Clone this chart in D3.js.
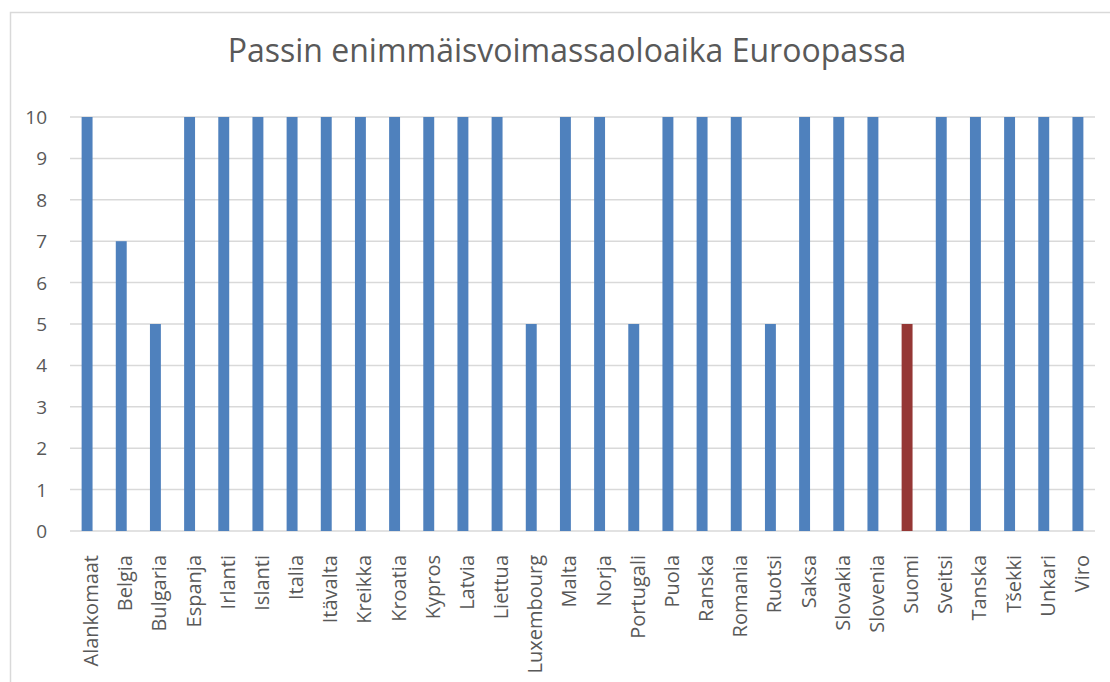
<!DOCTYPE html>
<html>
  <head>
    <meta charset="utf-8">
    <title>Passin enimmäisvoimassaoloaika Euroopassa</title>
    <script src="https://d3js.org/d3.v7.min.js"></script>
    <style type="text/css">
      body { margin: 0; background: #fff; }
      text { font-family: "Open Sans", "Noto Sans", sans-serif; fill: #595959; }
    </style>
  </head>
  <body>
    <script type="text/javascript">

      // Data
      var countries = ["Alankomaat", "Belgia", "Bulgaria", "Espanja", "Irlanti", "Islanti", "Italia",
        "Itävalta", "Kreikka", "Kroatia", "Kypros", "Latvia", "Liettua", "Luxembourg", "Malta",
        "Norja", "Portugali", "Puola", "Ranska", "Romania", "Ruotsi", "Saksa", "Slovakia",
        "Slovenia", "Suomi", "Sveitsi", "Tanska", "Tšekki", "Unkari", "Viro"];
      var years = [10, 7, 5, 10, 10, 10, 10, 10, 10, 10, 10, 10, 10, 5, 10,
        10, 5, 10, 10, 10, 5, 10, 10, 10, 5, 10, 10, 10, 10, 10];
      var highlight = "Suomi";
      var yTicks = [0, 1, 2, 3, 4, 5, 6, 7, 8, 9, 10];

      var width = 1110;
      var height = 682;
      var svg = d3.select("body")
          .append("svg")
          .attr("width", width)
          .attr("height", height);

      // chart frame
      svg.append("path")
          .attr("d", "M10.5," + height + " V12.5 H" + width)
          .style("fill", "none")
          .style("stroke", "#d9d9d9")
          .style("stroke-width", 1.5);

      // Title
      svg.append("text")
          .attr("x", 567)
          .attr("y", 62)
          .attr("text-anchor", "middle")
          .style("font-size", "32px")
          .text("Passin enimmäisvoimassaoloaika Euroopassa");

      var x = d3.scaleBand()
          .domain(countries)
          .range([70, 1095])
          .paddingInner(0.68)
          .paddingOuter(0.34);

      var y = d3.scaleLinear()
          .domain([0, 10])
          .range([531, 117]);

      // gridlines
      svg.append("g")
          .selectAll("line")
          .data(yTicks)
          .enter().append("line")
          .attr("x1", 70)
          .attr("x2", 1095)
          .attr("y1", function(d) { return y(d); })
          .attr("y2", function(d) { return y(d); })
          .style("stroke", "#d9d9d9")
          .style("stroke-width", 1.5);

      // y labels
      svg.append("g")
          .selectAll("text")
          .data(yTicks)
          .enter().append("text")
          .attr("x", 47)
          .attr("y", function(d) { return y(d) + 7; })
          .attr("text-anchor", "end")
          .style("font-size", "19px")
          .text(function(d) { return d; });

      // bars
      svg.append("g")
          .selectAll("rect")
          .data(countries)
          .enter().append("rect")
          .attr("x", function(d) { return x(d); })
          .attr("width", x.bandwidth())
          .attr("y", function(d, i) { return y(years[i]); })
          .attr("height", function(d, i) { return y(0) - y(years[i]); })
          .style("fill", function(d) { return d === highlight ? "#953735" : "#4f81bd"; });

      // category labels
      svg.append("g")
          .selectAll("text")
          .data(countries)
          .enter().append("text")
          .attr("transform", function(d) {
            return "translate(" + (x(d) + x.bandwidth() / 2 + 11) + ",555) rotate(-90)";
          })
          .attr("text-anchor", "end")
          .style("font-size", "20px")
          .text(function(d) { return d; });

    </script>
  </body>
</html>
